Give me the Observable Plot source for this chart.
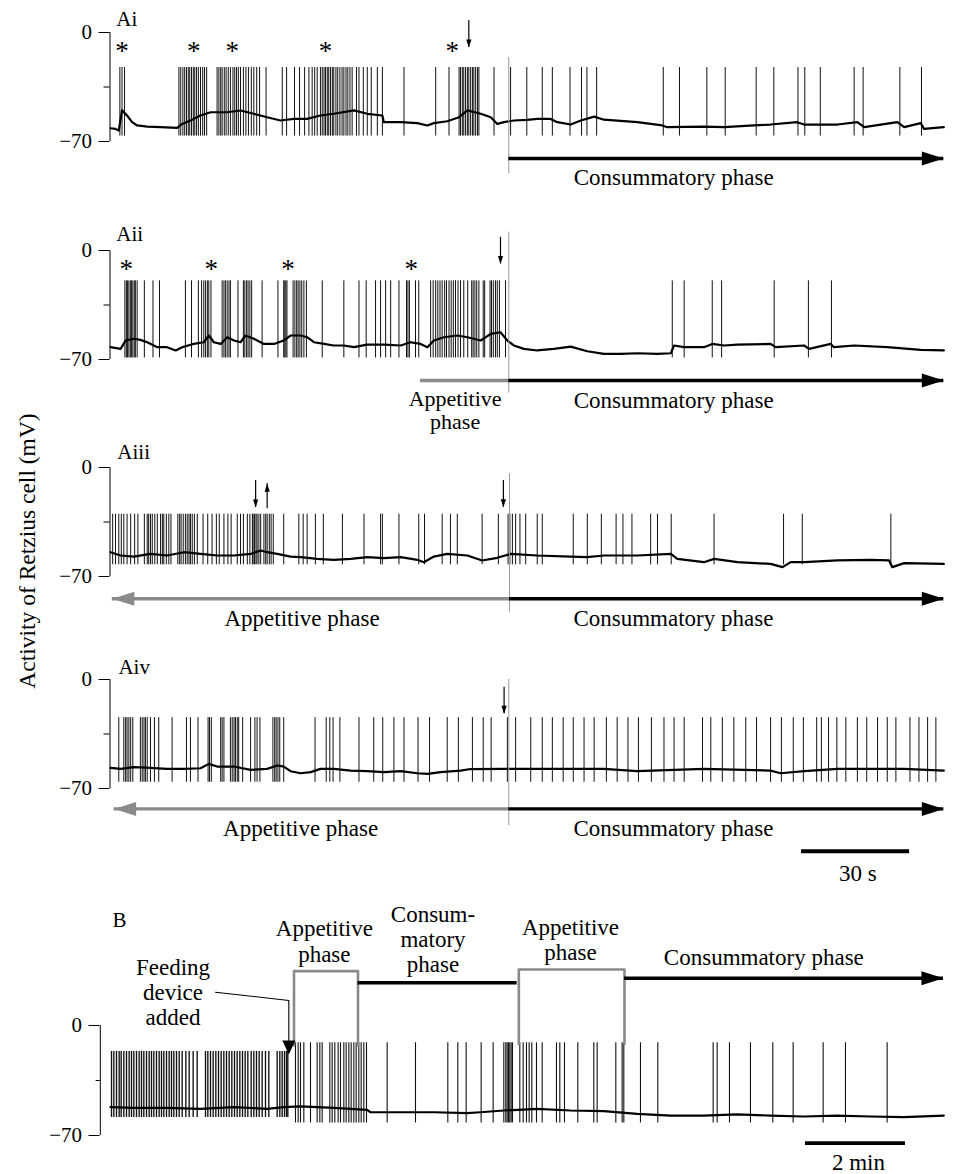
<!DOCTYPE html>
<html><head><meta charset="utf-8">
<script src="https://cdn.jsdelivr.net/npm/d3@7"></script>
<script src="https://cdn.jsdelivr.net/npm/@observablehq/plot@0.6"></script>
<style>
html,body{margin:0;padding:0;background:#fff;overflow:hidden;}
#fig{position:relative;width:953px;height:1174px;font-family:"Liberation Serif","Times New Roman",Times,serif;color:#000;}
#fig svg{position:absolute;left:0;}
#ylab{position:absolute;left:-173px;top:539px;width:400px;height:24px;line-height:24px;text-align:center;font-size:23.5px;transform:rotate(-90deg);white-space:nowrap;}
</style></head><body>
<div id="fig"><div id="ylab">Activity of Retzius cell (mV)</div></div>
<script>
// ---------------- DATA (time in s, membrane potential in mV) ----------------
// Panel Ai
const aiBaseline = [[0,-61.5],[1.4,-61.9],[2.3,-63],[3.2,-50],[4.6,-53.3],[6.0,-57.6],[7.4,-59.7],[10.2,-60.4],[13.9,-60.8],[18.5,-61.2],[19.9,-58.7],[22.2,-56.5],[25,-53.3],[27.8,-51.2],[32.4,-51.2],[36.1,-50.1],[39.8,-52.2],[43.5,-54.4],[47.2,-56.5],[50.9,-55.5],[54.6,-55.5],[58.3,-53.3],[62,-52.2],[67.6,-50],[71.3,-52.2],[75.5,-53.3],[75.9,-57.6],[80.6,-57.6],[85.2,-58.2],[88,-59.7],[89.8,-58.2],[93.5,-57],[96.8,-54.4],[99.1,-50],[102.8,-52.2],[105.6,-54.4],[107.4,-58.7],[109.3,-57.6],[112,-56.5],[115.7,-56.1],[118.5,-55.5],[122.2,-55.5],[124.1,-57.6],[127.8,-59.1],[130.6,-56.5],[134.3,-54],[137,-56],[146.3,-57.6],[153.2,-59.7],[154.6,-60.8],[164.8,-60.4],[170.4,-60.8],[178.7,-59.7],[183.3,-59.1],[190.7,-57.6],[192.6,-59.1],[201.9,-59.1],[207.4,-57.6],[209.3,-60.8],[218.5,-57.6],[220.4,-60.8],[225,-58.2],[225.9,-61.9],[231.4,-60.8]];
const aiSpikes = [2.6,3.2,3.9,19.0,19.5,20.1,20.6,21.1,21.6,22.0,22.5,23.0,23.4,23.9,24.4,25.0,25.6,26.1,26.7,29.6,30.1,30.6,31.0,31.6,32.1,32.7,33.3,34.0,34.5,35.0,35.5,36.1,36.9,37.6,38.3,39.1,39.8,40.6,41.4,43.2,47.7,48.9,51.1,52.5,53.9,55.1,56.0,56.7,57.4,58.3,58.8,59.3,59.7,60.2,60.6,61.1,61.6,62.0,62.6,63.1,63.7,64.3,64.8,65.4,65.9,66.5,67.1,68.3,69.0,70.2,71.3,72.4,74.1,75.5,81.5,90.3,94.0,96.8,97.2,97.7,98.1,98.6,99.1,99.5,100.0,100.5,100.9,101.4,101.9,102.3,106.5,111.1,115.6,119.9,122.7,127.6,130.8,132.3,135.0,153.5,158.0,165.6,170.7,179.3,184.2,190.9,192.8,197.1,206.5,209.0,219.2,225.2];
const aiSpikeRange = {top: -22.5, bottom: -66.5};
const aiStars = [3.2, 23.1, 33.8, 59.7, 94.9];
const aiStarLevel = -9.6;
const aiMarkers = [{t: 99.5, from: 7.7, to: -9.6, dir: "down"}];
const aiDivider = {t: 110.6, top: -16, bottom: -90.6};
const aiPhases = [{from: 110.6, to: 231.4, v: -80.9, phase: "consummatory", head: true}];
const aiTexts = [{t: 156.4, v: -93.2, text: "Consummatory phase"}];
const aiLabel = {t: 1.6, v: 8.2, text: "Ai"};

// Panel Aii
const aiiBaseline = [[0,-62.1],[2.8,-63.2],[4.2,-57.8],[6.5,-56.7],[8.3,-57.4],[10.2,-58.9],[13,-62.1],[15.7,-62.1],[18.1,-64.2],[19.9,-62.1],[23.1,-60],[25.9,-58.9],[27.3,-54.6],[28.7,-58.9],[30.6,-60],[32.4,-55.7],[34.3,-57.8],[36.1,-58.9],[37.5,-54.6],[39.8,-56.7],[42.6,-60],[45.4,-60],[48.1,-57.8],[50,-54.6],[52.8,-54.6],[54.6,-55.7],[56.5,-58.9],[59.3,-60],[62,-61],[64.8,-61],[67.6,-62.1],[71.3,-60.4],[75.9,-60.4],[80.6,-61],[83.3,-58.9],[86.1,-60],[88,-62.1],[89.8,-57.8],[92.6,-55.7],[96.3,-54.6],[99.1,-55.7],[102.8,-57.8],[105.6,-53.5],[108.3,-52.5],[110.2,-57.8],[112,-61],[114.8,-63.2],[118.5,-64.2],[123.1,-63.2],[127.8,-61.7],[132.4,-64.7],[137,-66.4],[141.7,-66.4],[146.3,-66],[151.9,-66.4],[155.6,-66],[156.5,-61],[159.3,-62.1],[164.8,-62.1],[167.1,-60],[170.4,-61],[174.1,-60.4],[183.3,-60],[184.7,-62.1],[192.6,-61],[194,-63.2],[200,-60],[200.9,-62.1],[206.5,-61],[215.7,-62.1],[225,-63.8],[231.4,-64.2]];
const aiiSpikes = [4.0,4.4,4.7,5.1,5.5,5.8,6.2,6.6,6.9,7.4,9.4,11.8,13.6,20.8,22.5,24.4,25.3,25.9,26.4,26.9,27.3,27.9,31.0,31.5,31.9,32.4,32.9,33.3,35.4,36.9,37.3,37.8,38.2,38.7,39.2,42.1,46.5,48.1,48.4,48.7,49.0,50.7,51.2,51.7,52.1,52.6,53.1,53.7,54.4,58.8,64.8,69.0,71.0,73.6,75.0,76.4,77.8,80.1,82.2,82.6,83.0,84.7,85.6,88.9,89.6,90.3,90.9,91.5,92.1,92.8,93.3,94.0,94.6,95.2,95.8,96.5,97.2,98.1,99.2,100.3,100.7,101.2,101.7,102.3,103.5,103.9,105.4,105.8,106.3,106.9,107.4,108.0,109.7,156.0,159.3,167.1,169.7,184.3,193.8,200.2];
const aiiSpikeRange = {top: -19.5, bottom: -69};
const aiiStars = [4.4, 28.0, 49.3, 83.5];
const aiiStarLevel = -9.6;
const aiiMarkers = [{t: 108.3, from: 8.5, to: -8.6, dir: "down"}];
const aiiDivider = {t: 110.6, top: 11.8, bottom: -91.6};
const aiiPhases = [{from: 86.1, to: 110.6, v: -83.5, phase: "appetitive", head: false},
                   {from: 110.6, to: 231.4, v: -83.5, phase: "consummatory", head: true}];
const aiiTexts = [{t: 156.4, v: -96.3, text: "Consummatory phase"}];
const aiiBlockTexts = [{t: 95.7, v: -102.4, text: "Appetitive\nphase"}];
const aiiLabel = {t: 1.6, v: 10.7, text: "Aii"};

// Panel Aiii
const aiiiBaseline = [[0,-54.4],[2.8,-56.5],[6.5,-57.2],[11.1,-55.5],[15.7,-56.5],[20.4,-54.4],[25,-55.5],[29.6,-56.5],[34.3,-56.5],[38.9,-55.5],[41.7,-53.3],[43.5,-54.4],[46.3,-55.5],[50,-57.2],[52.8,-57.6],[57.4,-58.7],[62,-59.3],[66.7,-58.7],[71.3,-57.6],[75.9,-58.2],[80.6,-57.6],[85.2,-59.3],[87,-60.8],[89.8,-57.2],[93.5,-55.5],[99.1,-56.5],[103.2,-59.7],[107.4,-58],[111.1,-55.5],[118.5,-56.5],[127.8,-57.2],[132.4,-57.6],[137,-56.5],[146.3,-56.5],[155.6,-55.5],[157.4,-58.7],[164.8,-60.8],[167.6,-58.7],[174.1,-60.8],[183.3,-61.9],[186.6,-64],[188.9,-60.8],[192.6,-60.8],[201.9,-59.7],[211.1,-59.3],[216.2,-59.7],[217.1,-64],[220.4,-61.4],[231.4,-61.9]];
const aiiiSpikes = [0.6,1.4,2.3,3.0,3.7,4.6,5.6,6.7,7.6,9.4,10.2,10.6,11.1,11.6,12.3,13.0,13.9,14.4,14.8,15.5,16.2,16.8,18.7,19.2,19.6,20.2,20.8,21.3,21.8,22.2,22.7,23.3,24.1,25.7,27.0,28.2,29.4,30.2,31.5,32.6,33.5,35.2,36.1,36.9,38.0,38.7,39.4,39.6,40.0,40.4,40.7,41.2,41.7,42.6,43.1,43.5,44.1,44.6,45.2,48.1,52.3,53.5,54.6,56.9,59.1,64.4,70.4,75.0,75.5,80.1,85.6,87.2,92.1,94.4,96.3,103.2,107.7,110.4,110.9,111.6,112.5,113.7,115.3,118.5,119.9,128.5,132.4,136.3,140.4,142.3,144.8,150.0,151.9,155.7,167.6,186.9,192.1,216.7];
const aiiiSpikeRange = {top: -30, bottom: -62.5};
const aiiiMarkers = [{t: 40.3, from: -8.3, to: -25.7, dir: "down"}, {t: 43.5, from: -26.5, to: -10.5, dir: "up"},
                     {t: 109.1, from: -8.3, to: -25.5, dir: "down"}];
const aiiiDivider = {t: 110.8, top: -4, bottom: -92.9};
const aiiiPhases = [{from: 110.8, to: 0.5, v: -84.3, phase: "appetitive", head: true},
                    {from: 110.8, to: 231.4, v: -84.3, phase: "consummatory", head: true}];
const aiiiTexts = [{t: 53.2, v: -97, text: "Appetitive phase"}, {t: 156.3, v: -97, text: "Consummatory phase"}];
const aiiiLabel = {t: 1.9, v: 9.6, text: "Aiii"};

// Panel Aiv
const aivBaseline = [[0,-56.7],[2.8,-57.4],[6.5,-56.3],[11.1,-56.7],[15.7,-57.4],[20.4,-57.4],[25,-57.0],[27.3,-54.2],[29.6,-55.9],[34.3,-55.9],[38.9,-58.0],[43.5,-57.4],[46.3,-55.2],[48.1,-55.9],[50,-58.9],[52.8,-60.2],[55.6,-59.5],[58.3,-57.4],[62,-57.4],[66.7,-58.5],[71.3,-58.9],[75.9,-59.5],[80.6,-58.9],[85.2,-60.2],[88,-60.6],[91.7,-59.5],[97.2,-58.5],[100,-57.5],[109.3,-57.4],[118.5,-57.4],[137,-57.4],[146.3,-58.9],[164.8,-57.4],[183.3,-58.5],[186.1,-60.2],[192.6,-58.9],[201.9,-57.4],[211.1,-57.4],[220.4,-57.4],[231.4,-58.5]];
const aivSpikes = [2.3,3.7,4.2,4.6,5.1,5.6,6.2,8.3,8.8,9.3,9.7,10.2,11.1,12.2,13.4,17.1,21.1,22.2,24.3,27.1,27.5,28.0,30.6,31.0,31.5,33.3,33.8,34.3,34.7,35.2,35.6,36.7,38.9,40.1,40.7,41.5,45.1,45.6,46.0,46.5,47.0,48.1,56.8,59.9,60.9,61.8,63.7,69.0,73.1,75.6,78.7,81.5,85.4,88.6,93.5,96.6,100.5,103.5,105.7,110.2,112.5,116.7,119.9,122.7,125.7,128.5,131.5,134.3,137.7,140.7,143.7,146.6,150.2,153.7,156.5,159.3,164.4,166.7,169.9,173.1,176.4,179.4,183.3,186.3,189.6,192.4,196.1,197.4,199.4,201.7,204.2,207.4,210.0,213.0,215.7,218.1,222.0,224.5,226.9,229.2];
const aivSpikeRange = {top: -24.5, bottom: -66};
const aivMarkers = [{t: 109.3, from: -4.9, to: -22, dir: "down"}];
const aivDivider = {t: 110.6, top: 0, bottom: -93.8};
const aivPhases = [{from: 110.6, to: 1.0, v: -83.1, phase: "appetitive", head: true},
                   {from: 110.6, to: 231.4, v: -83.1, phase: "consummatory", head: true}];
const aivTexts = [{t: 52.8, v: -95.5, text: "Appetitive phase"}, {t: 156.3, v: -95.5, text: "Consummatory phase"},
                  {t: 207.5, v: -124.4, text: "30 s"}];
const aivScaleBar = {from: 191.9, to: 221.9, v: -110.3};
const aivLabel = {t: 2.2, v: 7.7, text: "Aiv"};

// Panel B (time in s over the whole 1000 s record)
const bBaseline = [[0,-52.0],[28,-52.4],[68,-52.4],[108,-53.0],[148,-52.0],[188,-53.0],[208,-52.0],[228,-51.5],[248,-52.0],[268,-52.4],[288,-53.0],[308,-53.7],[312,-55.2],[348,-55.2],[388,-55.2],[428,-55.8],[444,-55.2],[472,-54.1],[512,-53.0],[552,-54.1],[592,-54.5],[632,-56.2],[672,-57.3],[712,-57.3],[752,-56.6],[792,-57.3],[832,-57.9],[872,-57.3],[912,-57.9],[952,-58.3],[1000,-57.3]];
const bSpikesEarly = [1.2,4,7.2,10.4,12.8,16,19.2,22.4,25.2,28,31.2,34.4,37.2,40,43.2,46.4,49.2,52,55.2,58.4,61.2,64,67.2,70.4,73.2,76,79.2,82.4,86,90.4,94.4,99.2,104,114,116.8,120,123.2,126.4,129.6,132.8,136,139.2,142.4,145.6,148.8,152,155.2,158.4,161.6,164.8,168.8,172,175.2,178.4,182,186,190,200,203.2,206,208.8,211.2,212.8];
const bSpikesLate = [222,225.2,228,232,240,248,251.2,254,263.2,266,269.2,273.2,276,280,282.8,286,288.8,292,294.8,298,300.8,304,307.2,332,366,404.8,416.8,426.8,444.8,459.2,472,474.4,476,477.6,479.2,480.8,482.4,491.2,495.2,499.2,502.4,505.6,511.2,518,535.2,539.2,544.8,560.8,580,584,606.4,614,616,636,656.8,723.2,728,742.8,768,794.8,819.2,855.2,882,932];
const bEarlyRange = {top: -16.5, bottom: -58.5};
const bLateRange = {top: -11, bottom: -62};
const bLeader = [[126, 21.2], [214, 15.9], [214, -9.5]];
const bLeaderTip = {t: 214, v: -18.5};
const bBrackets = [
  [[220.2,-12.7],[220.2,34.6],[297,34.6],[297,-12.7]],
  [[490,-11.7],[490,35.6],[616.8,35.6],[616.8,-11.7]]
];
const bPhases = [{from: 297, to: 488, v: 27.2, phase: "consummatory", head: false},
                 {from: 616.8, to: 999.6, v: 30.1, phase: "consummatory", head: true}];
const bTexts = [
  {t: 784, v: 43.1, text: "Consummatory phase"},
  {t: 897.6, v: -87.2, text: "2 min"}
];
const bBlockTexts = [
  {t: 75, v: 21.1, text: "Feeding\ndevice\nadded"},
  {t: 256.6, v: 53.8, text: "Appetitive\nphase"},
  {t: 387, v: 54.9, text: "Consum-\nmatory\nphase"},
  {t: 552, v: 54.6, text: "Appetitive\nphase"}
];
const bScaleBar = {from: 834, to: 954, v: -74.9};
const bLabel = {t: 2.4, v: 66.8, text: "B"};

const yTicks = [0, -70];
const yTickLabels = {"0": "0", "-70": "\u221270"};
const yMidTick = -35;
const aMidTickSpan = {from: -1.67, to: 0};
const bMidTickSpan = {from: -5, to: 0};

// ---------------- RENDERING ----------------
const FONT = '"Liberation Serif", "Times New Roman", Times, serif';
const GRAY = "#8a8a8a";
const fig = document.getElementById("fig");

const headRight = {draw(c){c.moveTo(0,0);c.lineTo(-22,-7);c.lineTo(-22,7);c.closePath();}};
const headLeft  = {draw(c){c.moveTo(0,0);c.lineTo(22,-7);c.lineTo(22,7);c.closePath();}};
const headDown  = {draw(c){c.moveTo(0,0);c.lineTo(-6.5,-14);c.lineTo(6.5,-14);c.closePath();}};
const smallDown = {draw(c){c.moveTo(0,0);c.lineTo(-2.6,-8);c.lineTo(2.6,-8);c.closePath();}};
const smallUp   = {draw(c){c.moveTo(0,0);c.lineTo(-2.6,8);c.lineTo(2.6,8);c.closePath();}};

function traceMarks(baseline, spikeSets) {
  const m = [];
  for (const [spikes, r, w] of spikeSets) {
    m.push(Plot.ruleX(spikes, {x: d => d, y1: r.bottom, y2: r.top, stroke: "#111", strokeWidth: w || 1}));
  }
  m.push(Plot.line(baseline, {x: d => d[0], y: d => d[1], stroke: "#000", strokeWidth: 2.2, strokeLinejoin: "round"}));
  return m;
}
function axisMarks(dx, midSpan) {
  return [
    Plot.ruleX([0], {y1: -70, y2: 0, stroke: "#000", strokeWidth: 1, dx}),
    Plot.ruleY([yMidTick], {x1: midSpan.from, x2: midSpan.to, stroke: "#000", strokeWidth: 1, dx})
  ];
}
function phaseMarks(phases) {
  const m = [];
  for (const p of phases) {
    const color = p.phase === "appetitive" ? GRAY : "#000";
    m.push(Plot.ruleY([p], {x1: "from", x2: "to", y: "v", stroke: color, strokeWidth: 3.4}));
    if (p.head) m.push(Plot.dot([p], {x: "to", y: "v", symbol: p.to < p.from ? headLeft : headRight, fill: color, stroke: "none"}));
  }
  return m;
}
function markerMarks(markers) {
  return [
    Plot.ruleX(markers, {x: "t", y1: "from", y2: "to", stroke: "#000", strokeWidth: 1.2}),
    ...markers.map(mk => Plot.dot([mk], {x: "t", y: "to", symbol: mk.dir === "down" ? smallDown : smallUp, fill: "#000", stroke: "none"}))
  ];
}
function dividerMark(d) {
  return Plot.ruleX([d], {x: "t", y1: "bottom", y2: "top", stroke: "#9a9a9a", strokeWidth: 1});
}
function textMarks(texts, size, lineHeight) {
  return Plot.text(texts, {x: "t", y: "v", text: "text", fontSize: size, lineHeight: lineHeight || 1, fill: "#000"});
}
function labelMark(l) {
  return Plot.text([l], {x: "t", y: "v", text: "text", fontSize: 21, textAnchor: "start", fill: "#000"});
}
function starMarks(stars, level) {
  return Plot.text(stars, {x: d => d, y: level, text: () => "*", fontSize: 27, dy: 4, fill: "#000"});
}

function panel({top, height, yRange, xDomain, marginLeft, marks}) {
  const svg = Plot.plot({
    width: 953, height, marginLeft, marginRight: 10, marginTop: 0, marginBottom: 0,
    x: {domain: xDomain, range: [110, 943.3], axis: null},
    y: {domain: [-70, 0], range: yRange, ticks: yTicks, tickSize: 11, tickPadding: 7,
        tickFormat: d => yTickLabels[String(d)], label: null},
    style: {fontFamily: FONT, fontSize: "21px", background: "transparent", overflow: "visible", color: "#000"},
    marks
  });
  svg.style.position = "absolute";
  svg.style.top = top + "px";
  svg.style.left = "0px";
  fig.appendChild(svg);
}

const A_DOMAIN = [0, 231.4];

panel({top: 0, height: 200, yRange: [141, 32], xDomain: A_DOMAIN, marginLeft: 109.5, marks: [
  ...axisMarks(-0.5, aMidTickSpan),
  ...traceMarks(aiBaseline, [[aiSpikes, aiSpikeRange]]),
  starMarks(aiStars, aiStarLevel),
  ...markerMarks(aiMarkers),
  dividerMark(aiDivider),
  ...phaseMarks(aiPhases),
  textMarks(aiTexts, 23),
  labelMark(aiLabel)
]});

panel({top: 200, height: 225, yRange: [159, 50], xDomain: A_DOMAIN, marginLeft: 109.5, marks: [
  ...axisMarks(-0.5, aMidTickSpan),
  ...traceMarks(aiiBaseline, [[aiiSpikes, aiiSpikeRange]]),
  starMarks(aiiStars, aiiStarLevel),
  ...markerMarks(aiiMarkers),
  dividerMark(aiiDivider),
  ...phaseMarks(aiiPhases),
  textMarks(aiiTexts, 23),
  textMarks(aiiBlockTexts, 22, 1.08),
  labelMark(aiiLabel)
]});

panel({top: 425, height: 205, yRange: [151, 42], xDomain: A_DOMAIN, marginLeft: 109.5, marks: [
  ...axisMarks(-0.5, aMidTickSpan),
  ...traceMarks(aiiiBaseline, [[aiiiSpikes, aiiiSpikeRange]]),
  ...markerMarks(aiiiMarkers),
  dividerMark(aiiiDivider),
  ...phaseMarks(aiiiPhases),
  textMarks(aiiiTexts, 23),
  labelMark(aiiiLabel)
]});

panel({top: 630, height: 260, yRange: [158, 49], xDomain: A_DOMAIN, marginLeft: 109.5, marks: [
  ...axisMarks(-0.5, aMidTickSpan),
  ...traceMarks(aivBaseline, [[aivSpikes, aivSpikeRange]]),
  ...markerMarks(aivMarkers),
  dividerMark(aivDivider),
  ...phaseMarks(aivPhases),
  Plot.ruleY([aivScaleBar], {x1: "from", x2: "to", y: "v", stroke: "#000", strokeWidth: 3.8}),
  textMarks(aivTexts, 23),
  labelMark(aivLabel)
]});

panel({top: 890, height: 284, yRange: [245, 135], xDomain: [0, 1000], marginLeft: 99.5, marks: [
  ...axisMarks(-10.2, bMidTickSpan),
  ...traceMarks(bBaseline, [[bSpikesEarly, bEarlyRange, 1.35], [bSpikesLate, bLateRange, 1.1]]),
  ...bBrackets.map(br => Plot.line(br, {x: d => d[0], y: d => d[1], stroke: GRAY, strokeWidth: 2.6})),
  ...phaseMarks(bPhases),
  Plot.line(bLeader, {x: d => d[0], y: d => d[1], stroke: "#000", strokeWidth: 1.1}),
  Plot.dot([bLeaderTip], {x: "t", y: "v", symbol: headDown, fill: "#000", stroke: "none"}),
  Plot.ruleY([bScaleBar], {x1: "from", x2: "to", y: "v", stroke: "#000", strokeWidth: 3.8}),
  textMarks(bTexts, 23),
  textMarks(bBlockTexts, 23, 1.09),
  labelMark(bLabel)
]});
</script>
</body></html>
